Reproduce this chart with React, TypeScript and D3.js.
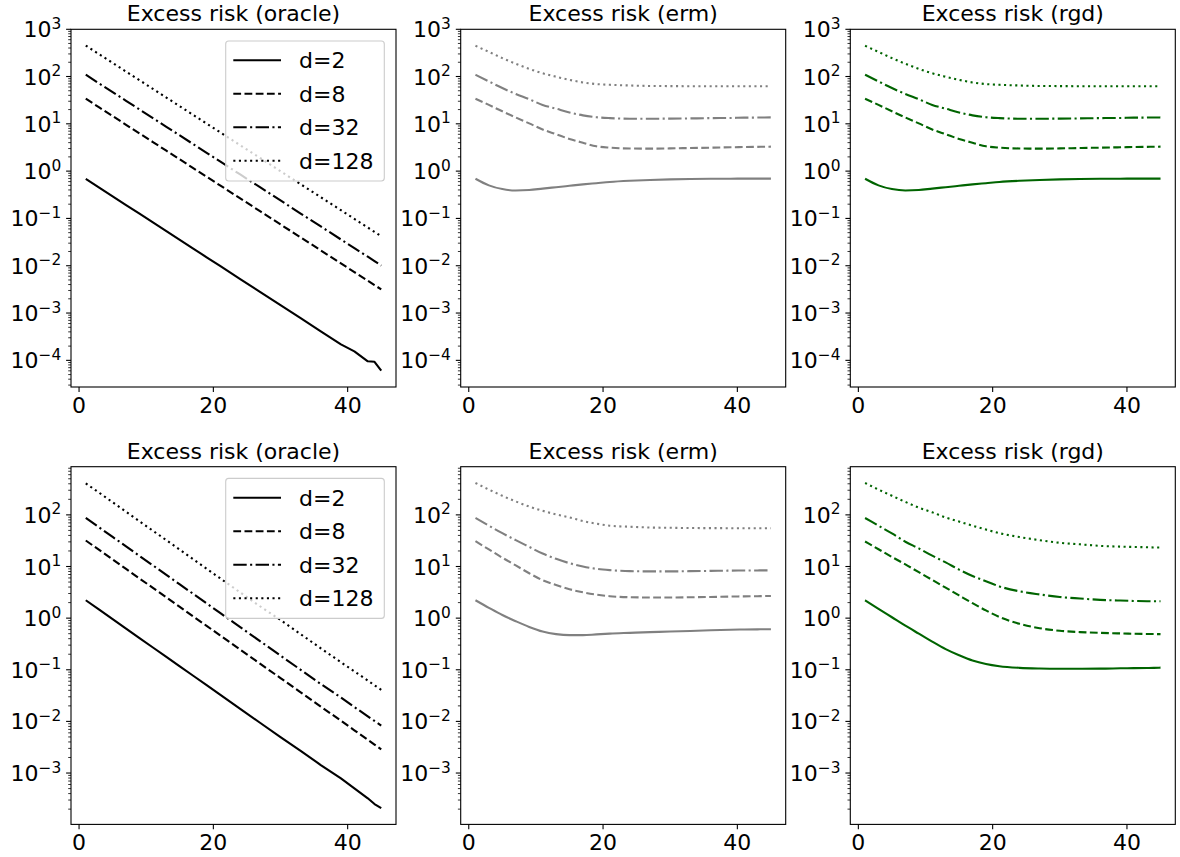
import React from "react";
import * as d3 from "d3";

// ---- data ----
const xs = [1, 3, 5, 7, 9, 11, 13, 15, 17, 19, 21, 24, 27, 30, 33, 36, 39, 41, 43, 44, 45];
const xTicks = [0, 20, 40];
const labels = ["d=2", "d=8", "d=32", "d=128"];
const titles = ["Excess risk (oracle)", "Excess risk (erm)", "Excess risk (rgd)"];
const colors = ["#000000", "#808080", "#006400"];

// top row
const oracleTopD2 = [0.684, 0.448, 0.293, 0.192, 0.126, 0.0822, 0.0538, 0.0352, 0.0231, 0.0151, 0.00989, 0.00524, 0.00277, 0.00147, 7.78e-4, 4.12e-4, 2.18e-4, 1.55e-4, 9.55e-5, 9.33e-5, 6.03e-5];
const oracleTopD8 = [33.9, 22.2, 14.6, 9.55, 6.27, 4.11, 2.7, 1.77, 1.16, 0.76, 0.499, 0.265, 0.141, 0.0748, 0.0397, 0.0211, 0.0112, 0.00735, 0.00482, 0.0039, 0.00316];
const oracleTopD32 = [109, 71.2, 46.8, 30.6, 20.1, 13.2, 8.66, 5.67, 3.72, 2.44, 1.6, 0.85, 0.452, 0.24, 0.127, 0.0676, 0.0359, 0.0236, 0.0155, 0.0125, 0.0101];
const oracleTopD128 = [451, 295, 194, 127, 83.4, 54.7, 35.9, 23.5, 15.4, 10.1, 6.64, 3.52, 1.88, 0.995, 0.528, 0.281, 0.149, 0.0978, 0.0641, 0.0519, 0.042];

const ermTopD2 = [0.69, 0.5, 0.417, 0.389, 0.398, 0.427, 0.457, 0.49, 0.525, 0.556, 0.589, 0.624, 0.65, 0.668, 0.681, 0.689, 0.692, 0.693, 0.695, 0.695, 0.695];
const ermTopD8 = [33.9, 25.1, 18.4, 13.6, 10.2, 7.59, 6.03, 4.79, 3.98, 3.35, 3.13, 3.01, 2.99, 3.02, 3.08, 3.13, 3.19, 3.23, 3.26, 3.27, 3.29];
const ermTopD32 = [109, 78.7, 57.0, 42.7, 33.1, 25.1, 20.9, 17.4, 15.1, 13.8, 13.2, 12.8, 12.8, 12.9, 13.0, 13.2, 13.3, 13.5, 13.55, 13.6, 13.65];
const ermTopD128 = [447, 331, 245, 186, 145, 117, 98.9, 85.1, 75.0, 69.2, 66.8, 64.6, 63.1, 62.7, 62.4, 62.4, 62.4, 62.4, 62.4, 62.4, 62.4];

const rgdTopD2 = [0.69, 0.5, 0.417, 0.389, 0.398, 0.427, 0.457, 0.49, 0.525, 0.556, 0.589, 0.624, 0.65, 0.668, 0.681, 0.689, 0.692, 0.693, 0.695, 0.695, 0.695];
const rgdTopD8 = [33.9, 25.1, 18.4, 13.6, 10.2, 7.59, 6.03, 4.79, 3.98, 3.35, 3.13, 3.01, 2.99, 3.02, 3.08, 3.13, 3.19, 3.23, 3.26, 3.27, 3.29];
const rgdTopD32 = [109, 78.7, 57.0, 42.7, 33.1, 25.1, 20.9, 17.4, 15.1, 13.8, 13.2, 12.8, 12.8, 12.9, 13.0, 13.2, 13.3, 13.5, 13.55, 13.6, 13.65];
const rgdTopD128 = [447, 331, 245, 186, 145, 117, 98.9, 85.1, 75.0, 69.2, 66.8, 64.6, 63.1, 62.7, 62.4, 62.4, 62.4, 62.4, 62.4, 62.4, 62.4];

// bottom row
const oracleBotD2 = [2.22, 1.455, 0.955, 0.628, 0.412, 0.27, 0.177, 0.116, 0.0766, 0.0502, 0.033, 0.0175, 0.00931, 0.00495, 0.00269, 0.00143, 7.85e-4, 5.05e-4, 3.24e-4, 2.51e-4, 2.09e-4];
const oracleBotD8 = [31.9, 20.9, 13.7, 8.97, 5.87, 3.85, 2.52, 1.65, 1.08, 0.708, 0.463, 0.245, 0.13, 0.069, 0.0366, 0.0194, 0.0103, 0.00673, 0.00441, 0.00356, 0.00288];
const oracleBotD32 = [87.1, 57.1, 37.4, 24.5, 16.0, 10.5, 6.88, 4.5, 2.95, 1.93, 1.26, 0.669, 0.355, 0.188, 0.0999, 0.053, 0.029, 0.019, 0.0125, 0.0102, 0.0083];
const oracleBotD128 = [408, 268, 175, 115, 75.1, 49.3, 32.3, 21.1, 13.8, 9.06, 5.93, 3.14, 1.68, 0.92, 0.49, 0.26, 0.14, 0.093, 0.062, 0.05, 0.041];

const ermBotD2 = [2.22, 1.585, 1.148, 0.871, 0.676, 0.55, 0.49, 0.468, 0.468, 0.484, 0.501, 0.519, 0.537, 0.55, 0.565, 0.582, 0.596, 0.603, 0.607, 0.61, 0.611];
const ermBotD8 = [30.9, 21.4, 14.8, 10.5, 7.41, 5.43, 4.37, 3.63, 3.16, 2.85, 2.66, 2.54, 2.51, 2.51, 2.54, 2.57, 2.62, 2.64, 2.66, 2.68, 2.69];
const ermBotD32 = [87.1, 61.7, 44.2, 32.4, 24.0, 17.8, 14.1, 11.6, 10.0, 9.02, 8.51, 8.13, 8.04, 8.04, 8.13, 8.22, 8.32, 8.36, 8.39, 8.41, 8.41];
const ermBotD128 = [415, 309, 234, 182, 145, 120, 102, 89.1, 75.9, 67.6, 61.7, 58.9, 56.9, 56.2, 55.6, 55.4, 55.2, 55.1, 55.0, 55.0, 55.0];

const rgdBotD2 = [2.22, 1.51, 1.04, 0.716, 0.501, 0.351, 0.251, 0.191, 0.151, 0.129, 0.117, 0.109, 0.106, 0.105, 0.105, 0.1052, 0.1067, 0.1076, 0.1084, 0.109, 0.11];
const rgdBotD8 = [30.5, 21.6, 15.3, 11.0, 7.76, 5.5, 3.89, 2.75, 1.95, 1.41, 1.054, 0.776, 0.638, 0.569, 0.537, 0.519, 0.506, 0.499, 0.494, 0.492, 0.49];
const rgdBotD32 = [87.1, 61.7, 43.7, 30.2, 22.4, 16.2, 12.0, 8.71, 6.53, 5.19, 4.12, 3.31, 2.88, 2.57, 2.4, 2.26, 2.19, 2.15, 2.13, 2.12, 2.12];
const rgdBotD128 = [415, 309, 234, 178, 138, 112, 89.1, 74.1, 61.7, 51.9, 44.2, 37.2, 32.4, 28.8, 26.9, 25.1, 24.3, 23.9, 23.6, 23.4, 23.4];

const rows = [
  [
    [oracleTopD2, oracleTopD8, oracleTopD32, oracleTopD128],
    [ermTopD2, ermTopD8, ermTopD32, ermTopD128],
    [rgdTopD2, rgdTopD8, rgdTopD32, rgdTopD128],
  ],
  [
    [oracleBotD2, oracleBotD8, oracleBotD32, oracleBotD128],
    [ermBotD2, ermBotD8, ermBotD32, ermBotD128],
    [rgdBotD2, rgdBotD8, rgdBotD32, rgdBotD128],
  ],
];

// ---- layout / style ----
const W = 1180;
const H = 857;
const colLefts = [71, 460.7, 850.3];
const axW = 325;
const rowTops = [29.3, 466.7];
const axH = 357.7;
const FONT = "DejaVu Sans, sans-serif";
const FS = 22;
const LW = 2.1;
const dashes = ["", "7.8,3.4", "13.4,3.4,2.1,3.4", "2.1,3.5"];
const SUPMINUS = "\u2212";

function Panel({ row, col, series, yDomain }: any) {
  const left = colLefts[col];
  const top = rowTops[row];
  const right = left + axW;
  const bottom = top + axH;
  const xExt = d3.extent(xs) as [number, number];
  const xm = (xExt[1] - xExt[0]) * 0.05;
  const x = d3.scaleLinear().domain([xExt[0] - xm, xExt[1] + xm]).range([left, right]);
  const y = d3.scaleLog().domain(yDomain).range([bottom, top]);
  const color = colors[col];
  const curve = col === 0 ? d3.curveLinear : d3.curveMonotoneX;
  const line = d3
    .line<number>()
    .x((_, i) => x(xs[i]))
    .y((d) => y(d))
    .curve(curve);

  const lo = Math.log10(yDomain[0]);
  const hi = Math.log10(yDomain[1]);
  const tol = 0.02;
  const majors: number[] = [];
  const minors: number[] = [];
  for (let k = Math.floor(lo); k <= Math.ceil(hi); k++) {
    if (k >= lo && k <= hi + tol) majors.push(k);
    for (let m = 2; m <= 9; m++) {
      const v = Math.log10(m) + k;
      if (v >= lo && v <= hi) minors.push(Math.pow(10, v));
    }
  }
  const clampY = (k: number) => Math.max(top, Math.min(bottom, y(Math.pow(10, k))));

  const legW = 158.6;
  const legH = 140;
  const legX = right - 11.7 - legW;
  const legY = top + 11.7;

  return (
    <g>
      {series.map((s: number[], i: number) => (
        <path
          key={i}
          d={line(s) || ""}
          fill="none"
          stroke={color}
          strokeWidth={LW}
          strokeDasharray={dashes[i] || undefined}
          strokeLinejoin="round"
        />
      ))}
      <rect x={left} y={top} width={axW} height={axH} fill="none" stroke="#000" strokeWidth={1.1} />
      {/* x ticks */}
      {xTicks.map((t) => (
        <g key={t}>
          <line x1={x(t)} x2={x(t)} y1={bottom} y2={bottom + 4.9} stroke="#000" strokeWidth={1.1} />
          <text x={x(t)} y={bottom + 26} textAnchor="middle" fontSize={FS} fontFamily={FONT} fill="#000">
            {t}
          </text>
        </g>
      ))}
      {/* y minor ticks */}
      {minors.map((v, i) => (
        <line key={"m" + i} x1={left - 2.8} x2={left} y1={y(v)} y2={y(v)} stroke="#000" strokeWidth={0.8} />
      ))}
      {/* y major ticks */}
      {majors.map((k) => (
        <g key={"M" + k}>
          <line x1={left - 4.9} x2={left} y1={clampY(k)} y2={clampY(k)} stroke="#000" strokeWidth={1.1} />
          <text x={left - 9.8} y={clampY(k) + 8} textAnchor="end" fontSize={FS} fontFamily={FONT} fill="#000">
            <tspan>10</tspan>
            <tspan dy={-8.5} fontSize={15.4}>
              {k < 0 ? SUPMINUS + Math.abs(k) : String(k)}
            </tspan>
          </text>
        </g>
      ))}
      <text x={(left + right) / 2} y={top - 8} textAnchor="middle" fontSize={FS} fontFamily={FONT} fill="#000">
        {titles[col]}
      </text>
      {col === 0 && (
        <g>
          <rect x={legX} y={legY} width={legW} height={legH} rx={3} ry={3} fill="rgba(255,255,255,0.8)" stroke="#cccccc" strokeWidth={1.1} />
          {labels.map((lab, i) => {
            const cy = legY + 19.3 + i * 33.5;
            return (
              <g key={lab}>
                <line
                  x1={legX + 7.6}
                  x2={legX + 55.3}
                  y1={cy}
                  y2={cy}
                  stroke={color}
                  strokeWidth={LW}
                  strokeDasharray={dashes[i] || undefined}
                />
                <text x={legX + 73.3} y={cy + 7.8} fontSize={FS} fontFamily={FONT} fill="#000">
                  {lab}
                </text>
              </g>
            );
          })}
        </g>
      )}
    </g>
  );
}

export default function App() {
  return (
    <svg
      width={W}
      height={H}
      viewBox={`0 0 ${W} ${H}`}
      style={{ position: "absolute", left: 0, top: 0, background: "#fff" }}
    >
      <rect x={0} y={0} width={W} height={H} fill="#fff" />
      {rows.map((panels, r) => {
        const all = panels.flat(2) as number[];
        const lmin = Math.log10(d3.min(all) as number);
        const lmax = Math.log10(d3.max(all) as number);
        const m = (lmax - lmin) * 0.05;
        const yDomain = [Math.pow(10, lmin - m), Math.pow(10, lmax + m)];
        return panels.map((series, c) => (
          <Panel key={r + "-" + c} row={r} col={c} series={series} yDomain={yDomain} />
        ));
      })}
    </svg>
  );
}
